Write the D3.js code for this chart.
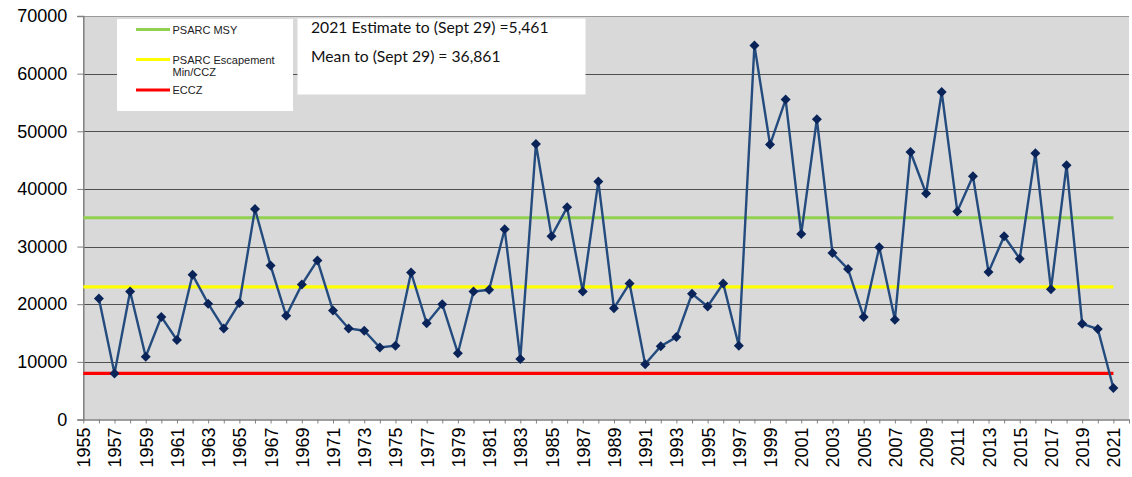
<!DOCTYPE html>
<html>
<head>
<meta charset="utf-8">
<script src="https://cdn.jsdelivr.net/npm/d3@7"></script>
<style>
  body { margin: 0; background: #fff; }
  svg { display: block; }
</style>
</head>
<body>
<svg id="chart"></svg>
<script>
const years = d3.range(1956, 2022);
const escapement = [
  21000, 8000, 22200, 10900, 17800, 13800, 25100, 20100, 15800, 20200,
  36500, 26700, 18000, 23400, 27600, 18900, 15800, 15400, 12500, 12800,
  25500, 16700, 20000, 11500, 22200, 22500, 33000, 10500, 47800, 31800,
  36800, 22200, 41300, 19300, 23600, 9600, 12700, 14300, 21800, 19600,
  23600, 12800, 64900, 47700, 55500, 32200, 52100, 28900, 26100, 17800,
  29900, 17300, 46400, 39200, 56800, 36100, 42200, 25600, 31800, 27900,
  46200, 22600, 44100, 16600, 15700, 5461
];
const refNames = ["PSARC MSY", "PSARC Escapement\nMin/CCZ", "ECCZ"];
const refValues = [35000, 23000, 8000];
const refColors = ["#92D050", "#FFFF00", "#FF0000"];
const yTicks = [0, 10000, 20000, 30000, 40000, 50000, 60000, 70000];
const noteLines = ["2021 Estimate to (Sept 29) =5,461", "Mean to (Sept 29) = 36,861"];

const width = 1132, height = 477;
const plot = { left: 83.3, right: 1129, top: 16, bottom: 419.5 };

const svg = d3.select("#chart")
  .attr("width", width)
  .attr("height", height)
  .style("font-family", "'Liberation Sans', Arial, sans-serif");

const x = d3.scaleLinear().domain([1955, 2022]).range([plot.left, plot.right]);
const y = d3.scaleLinear().domain([0, 70000]).range([plot.bottom, plot.top]);

// plot background
svg.append("rect")
  .attr("x", plot.left).attr("y", plot.top)
  .attr("width", plot.right - plot.left).attr("height", plot.bottom - plot.top)
  .attr("fill", "#D9D9D9");

// gridlines
svg.append("g")
  .selectAll("line")
  .data(yTicks.slice(1))
  .join("line")
    .attr("x1", plot.left).attr("x2", plot.right)
    .attr("y1", d => Math.round(y(d)) + 0.5)
    .attr("y2", d => Math.round(y(d)) + 0.5)
    .attr("stroke", d => d === 70000 ? "#9a9a9a" : "#505050")
    .attr("stroke-width", 1);

// y axis
const yAxis = d3.axisLeft(y).tickValues(yTicks).tickFormat(d3.format("d")).tickSize(6).tickPadding(10);
const gy = svg.append("g")
  .attr("transform", `translate(${plot.left},0)`)
  .call(yAxis);
gy.select(".domain").attr("stroke", "#808080").attr("stroke-width", 1.5);
gy.selectAll(".tick line").attr("stroke", "#808080");
gy.selectAll("text").style("font-size", "18px").attr("fill", "#000");

// x axis: tick every year, label every second year
const xAxis = d3.axisBottom(x)
  .tickValues(d3.range(1955, 2023))
  .tickFormat(d => (d - 1955) % 2 === 0 && d <= 2021 ? d : "")
  .tickSize(4).tickSizeOuter(0);
const gx = svg.append("g")
  .attr("transform", `translate(0,${plot.bottom})`)
  .call(xAxis);
gx.select(".domain").attr("stroke", "#808080").attr("stroke-width", 1.5);
gx.selectAll(".tick line").attr("stroke", "#808080");
gx.selectAll("text")
  .style("font-size", "18px")
  .attr("fill", "#000")
  .attr("text-anchor", "end")
  .attr("transform", "rotate(-90)")
  .attr("x", -8)
  .attr("y", 0)
  .attr("dy", "0.36em");

// reference lines
svg.append("g")
  .selectAll("line")
  .data(refValues)
  .join("line")
    .attr("x1", x(1955)).attr("x2", x(2021))
    .attr("y1", d => y(d)).attr("y2", d => y(d))
    .attr("stroke", (d, i) => refColors[i])
    .attr("stroke-width", 3.2);

// series
const line = d3.line()
  .x((d, i) => x(years[i]))
  .y(d => y(d));
svg.append("path")
  .datum(escapement)
  .attr("d", line)
  .attr("fill", "none")
  .attr("stroke", "#244B7E")
  .attr("stroke-width", 2.4);

// diamond markers (square turned 45deg)
svg.append("g")
  .selectAll("path")
  .data(escapement)
  .join("path")
    .attr("d", d3.symbol(d3.symbolSquare, 50))
    .attr("transform", (d, i) => `translate(${x(years[i])},${y(d)}) rotate(45)`)
    .attr("fill", "#0A2459");

// legend box
const legend = svg.append("g");
legend.append("rect")
  .attr("x", 117).attr("y", 19)
  .attr("width", 176).attr("height", 92)
  .attr("fill", "#fff");
const legendY = [29.5, 59.5, 90];
refNames.forEach((name, i) => {
  legend.append("line")
    .attr("x1", 136).attr("x2", 170)
    .attr("y1", legendY[i]).attr("y2", legendY[i])
    .attr("stroke", refColors[i])
    .attr("stroke-width", 3);
  const t = legend.append("text")
    .attr("x", 172.5)
    .attr("y", legendY[i] + 4)
    .style("font-size", "11px")
    .attr("fill", "#222");
  name.split("\n").forEach((s, j) => {
    t.append("tspan").attr("x", 172.5).attr("dy", j ? 12 : 0).text(s);
  });
});

// note box
const note = svg.append("g");
note.append("rect")
  .attr("x", 297.5).attr("y", 18.5)
  .attr("width", 288).attr("height", 76)
  .attr("fill", "#fff");
note.selectAll("text")
  .data(noteLines)
  .join("text")
    .attr("x", 311)
    .attr("y", (d, i) => 33 + i * 29)
    .style("font-family", "Lato, 'Open Sans', sans-serif")
    .style("font-size", "15.7px")
    .attr("fill", "#111")
    .text(d => d);
</script>
</body>
</html>
